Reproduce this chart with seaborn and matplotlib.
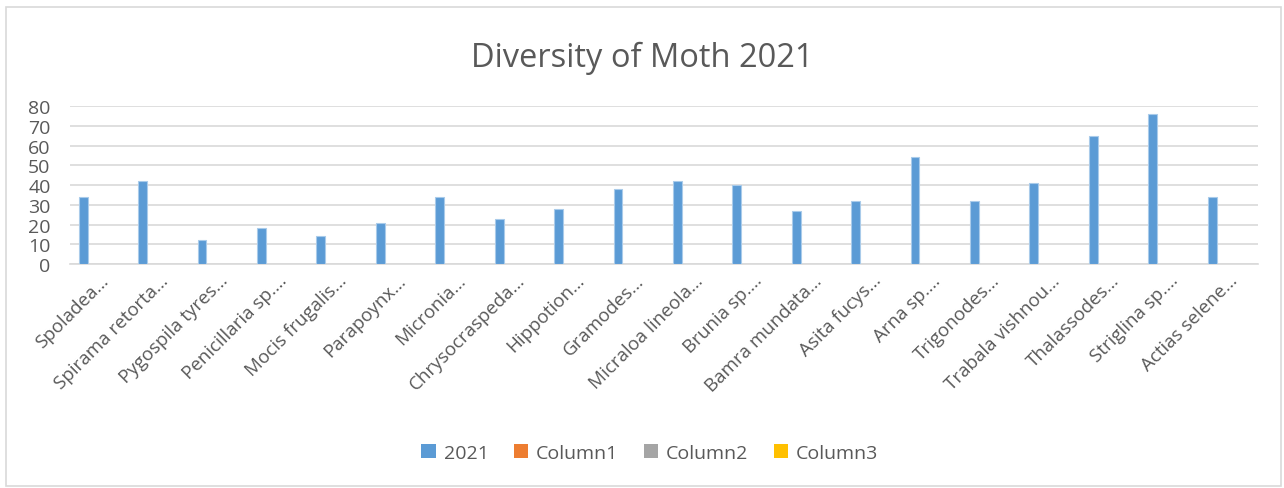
import matplotlib
matplotlib.use("Agg")
import matplotlib.pyplot as plt
import matplotlib.patches as mpatches
import seaborn as sns
import pandas as pd
import numpy as np

species = ["Spoladea…", "Spirama retorta…", "Pygospila tyres…", "Penicillaria sp.…",
           "Mocis frugalis…", "Parapoynx…", "Micronia…", "Chrysocraspeda…",
           "Hippotion…", "Gramodes…", "Micraloa lineola…", "Brunia sp.…",
           "Bamra mundata…", "Asita fucys…", "Arna sp.…", "Trigonodes…",
           "Trabala vishnou…", "Thalassodes…", "Striglina sp.…", "Actias selene…"]
values_2021 = [34, 42, 12, 18, 14, 21, 34, 23, 28, 38, 42, 40, 27, 32, 54, 32, 41, 65, 76, 34]
series_names = ["2021", "Column1", "Column2", "Column3"]
series_colors = ["#5B9BD5", "#ED7D31", "#A5A5A5", "#FFC000"]
yticks = [0, 10, 20, 30, 40, 50, 60, 70, 80]

rows = []
for s in series_names:
    for i, sp in enumerate(species):
        rows.append({"species": sp, "series": s,
                     "value": values_2021[i] if s == "2021" else np.nan})
df = pd.DataFrame(rows)

sns.set_style("white")
plt.rcParams['font.family'] = ['Open Sans', 'DejaVu Sans']
text_color = "#595959"

fig = plt.figure(figsize=(12.84, 4.89), dpi=100)
ax = fig.add_axes([0.0545, 0.458, 0.9255, 0.323])

sns.barplot(data=df, x="species", y="value", hue="series", hue_order=series_names,
            palette=series_colors, order=species, width=0.74, gap=0.2, saturation=1,
            edgecolor="#A9CBEA", linewidth=0.8, legend=False, ax=ax, zorder=3)

ax.set_ylim(0, 80)
ax.set_yticks(yticks)
ax.set_xlim(-0.5, len(species) - 0.5)
ax.yaxis.grid(True, color="#D9D9D9", linewidth=1.2, zorder=0)
ax.set_axisbelow(True)
for sp in ["top", "right", "left"]:
    ax.spines[sp].set_visible(False)
ax.spines["bottom"].set_color("#D9D9D9")
ax.spines["bottom"].set_linewidth(1.2)
ax.set_xlabel("")
ax.set_ylabel("")
ax.tick_params(axis="both", length=0, colors=text_color, labelsize=14)
ax.tick_params(axis="y", pad=14)
ax.set_xticks(range(len(species)))
ax.set_xticklabels(species, rotation=45, ha="right", rotation_mode="anchor",
                   color=text_color, fontsize=13.5)
ax.tick_params(axis="x", pad=5)
for lbl in ax.get_yticklabels():
    lbl.set_color(text_color)

fig.suptitle("Diversity of Moth 2021", y=0.915, fontsize=23.5, color=text_color)

handles = [mpatches.Patch(facecolor=c, edgecolor="none", label=n)
           for n, c in zip(series_names, series_colors)]
fig.legend(handles=handles, loc="center", bbox_to_anchor=(0.506, 0.072), ncol=4,
           frameon=False, fontsize=14, labelcolor=text_color,
           handlelength=0.75, handleheight=0.75, handletextpad=0.4, columnspacing=1.3)

border = mpatches.Rectangle((0.005, 0.004), 0.993, 0.98, transform=fig.transFigure,
                            fill=False, edgecolor="#D9D9D9", linewidth=1.2)
fig.patches.append(border)

fig.savefig("out.png", dpi=100, facecolor="white")
